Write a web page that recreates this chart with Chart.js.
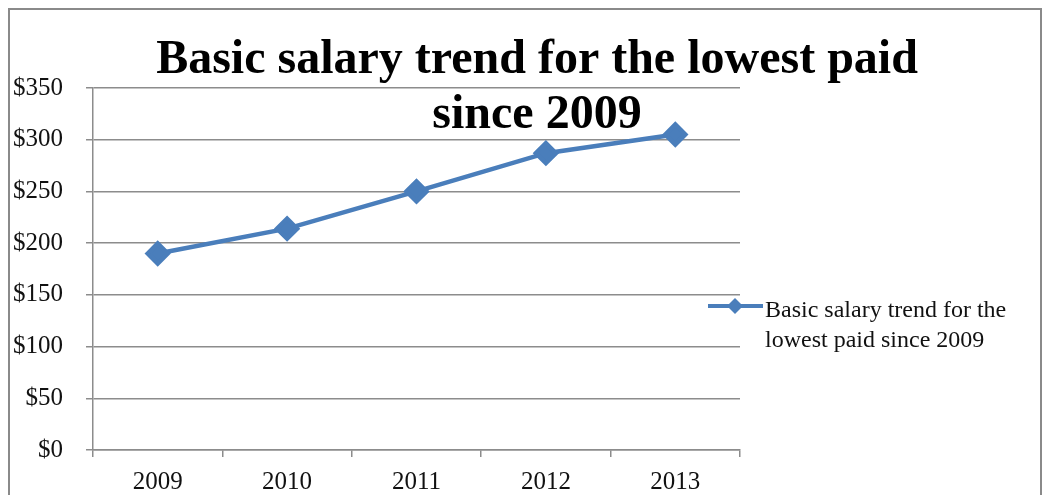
<!DOCTYPE html>
<html lang="en">
<head>
    <meta charset="UTF-8">
    <title>Basic salary trend</title>
    <script src="https://cdn.jsdelivr.net/npm/chart.js"></script>
    <style>
        body { margin: 0; background: #fff; }
        #wrap { position: relative; width: 1054px; height: 495px; overflow: hidden; }
        #frame { position: absolute; left: 8px; top: 8px; width: 1030px; height: 520px; border: 2px solid #8a8a8a; }
        canvas { position: absolute; left: 0; top: 0; }
    </style>
</head>
<body>
<div id="wrap">
    <div id="frame"></div>
    <canvas id="chart" width="1054" height="495"></canvas>
</div>
<script>
    const years = ['2009', '2010', '2011', '2012', '2013'];
    const salary = [190, 214, 250, 287, 305];
    const seriesName = 'Basic salary trend for the lowest paid since 2009';
    const titleLines = ['Basic salary trend for the lowest paid', 'since 2009'];
    const legendLines = ['Basic salary trend for the', 'lowest paid since 2009'];

    const blue = '#4a7ebb';
    const grey = '#8c8c8c';
    const serif = '"Liberation Serif", "Times New Roman", serif';

    // title sits over the plot, legend to the right, like the Excel original
    const overlay = {
        id: 'overlay',
        afterDraw(chart) {
            const c = chart.ctx;
            c.save();
            c.fillStyle = '#000';
            c.font = 'bold 48px ' + serif;
            c.textAlign = 'center';
            c.textBaseline = 'alphabetic';
            c.fillText(titleLines[0], 537, 73);
            c.fillText(titleLines[1], 537, 128);

            // legend
            const ly = 306;
            c.strokeStyle = blue;
            c.lineWidth = 4;
            c.beginPath();
            c.moveTo(708, ly);
            c.lineTo(763, ly);
            c.stroke();
            c.fillStyle = blue;
            c.beginPath();
            c.moveTo(735, ly - 8);
            c.lineTo(743, ly);
            c.lineTo(735, ly + 8);
            c.lineTo(727, ly);
            c.closePath();
            c.fill();
            c.fillStyle = '#111';
            c.font = '24px ' + serif;
            c.textAlign = 'left';
            c.textBaseline = 'alphabetic';
            c.fillText(legendLines[0], 765, ly + 11);
            c.fillText(legendLines[1], 765, ly + 41);
            c.restore();
        }
    };

    new Chart(document.getElementById('chart'), {
        type: 'line',
        data: {
            labels: years,
            datasets: [{
                label: seriesName,
                data: salary,
                borderColor: blue,
                backgroundColor: blue,
                borderWidth: 4.5,
                pointStyle: 'rectRot',
                pointRadius: 10,
                pointHoverRadius: 10,
                fill: false,
                tension: 0
            }]
        },
        options: {
            responsive: false,
            animation: false,
            events: [],
            layout: { padding: { left: 0, right: 314, top: 88, bottom: 0 } },
            plugins: { legend: { display: false }, title: { display: false }, tooltip: { enabled: false } },
            scales: {
                x: {
                    offset: true,
                    grid: { offset: true, drawOnChartArea: false, drawTicks: true, tickLength: 7, color: grey, lineWidth: 1.5 },
                    border: { color: grey, width: 1.5 },
                    ticks: { color: '#111', font: { family: serif, size: 25 }, padding: 10 },
                    afterFit(s) { s.height = 45; }
                },
                y: {
                    min: 0, max: 350,
                    grid: { color: grey, lineWidth: 1.5, tickLength: 7 },
                    border: { color: grey, width: 1.5 },
                    ticks: {
                        stepSize: 50,
                        color: '#111',
                        font: { family: serif, size: 25 },
                        padding: 23,
                        callback: v => '$' + v
                    },
                    afterFit(s) { s.width = 93; }
                }
            }
        },
        plugins: [overlay]
    });
</script>
</body>
</html>
